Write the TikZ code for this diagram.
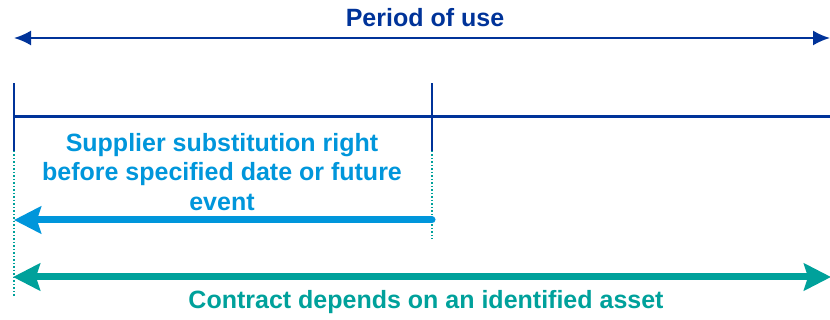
\documentclass[tikz,border=0pt]{standalone}
\usepackage{fontspec}
\setmainfont{Liberation Sans}
\usetikzlibrary{arrows.meta,positioning}
\definecolor{darkblue}{RGB}{0,51,153}
\definecolor{lightblue}{RGB}{0,150,219}
\definecolor{contractteal}{RGB}{0,161,155}
\tikzstyle{heading} = [font=\fontsize{25}{29.5}\selectfont\bfseries,align=center,inner sep=0]
\tikzstyle{period} = [darkblue,line width=2pt,{Latex[length=17pt,width=15pt]}-{Latex[length=17pt,width=15pt]}]
\tikzstyle{axis} = [darkblue,line width=3pt]
\tikzstyle{tick} = [darkblue,line width=2.5pt]
\tikzstyle{marker} = [contractteal,dotted,line width=1.5pt]
\tikzstyle{substitution} = [lightblue,line width=7pt,line cap=round,-{Stealth[length=27pt,width=27pt,inset=4pt]}]
\tikzstyle{contract} = [contractteal,line width=7pt,{Stealth[length=27pt,width=27pt,inset=4pt]}-{Stealth[length=27pt,width=27pt,inset=4pt]}]
\def \tk {34}

\begin{document}
\begin{tikzpicture}[x=1pt,y=-1pt]
  \useasboundingbox (0,0) rectangle (830,320);
  % period of use
  \node[heading,darkblue] (use) at (425,18) {Period of use};
  \coordinate (usel) at (14,38);
  \coordinate (user) at (830,38);
  \draw[period] (usel) -- (user);
  % timeline
  \coordinate (start) at (14,117);
  \coordinate (change) at (432,117);
  \coordinate (finish) at (830,117);
  \coordinate (startlow) at (14,151);
  \coordinate (changelow) at (432,151);
  \draw[axis] (start) -- (finish);
  \draw[marker] (startlow) -- +(0,146);
  \draw[marker] (changelow) -- +(0,88);
  \draw[tick] (startlow) -- +(0,-2*\tk);
  \draw[tick] (changelow) -- +(0,-2*\tk);
  % substitution right
  \node[heading,lightblue] (right) at (222,172) {Supplier substitution right\\before specified date or future\\event};
  \coordinate (rightend) at (432,220);
  \coordinate (righttip) at (14,220);
  \draw[substitution] (rightend) -- (righttip);
  % identified asset
  \coordinate (assetl) at (13,277);
  \coordinate (assetr) at (831,277);
  \draw[contract] (assetl) -- (assetr);
  \node[heading,contractteal] (asset) at (426,302) {Contract depends on an identified asset};
\end{tikzpicture}
\end{document}
